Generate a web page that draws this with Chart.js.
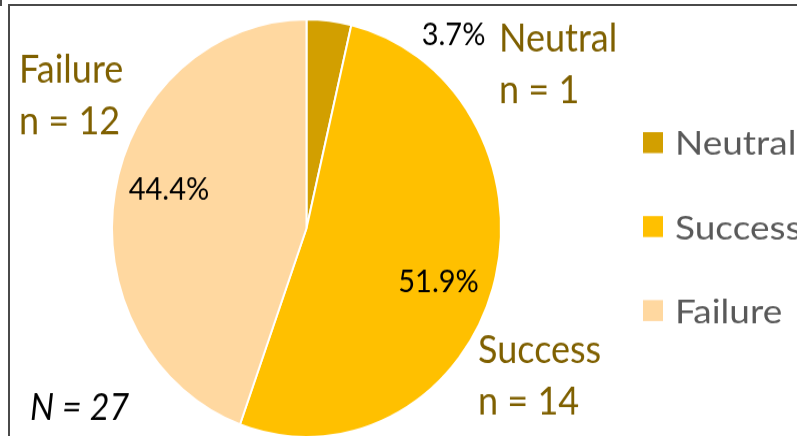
<!DOCTYPE html>
<html>
<head>
<meta charset="utf-8">
<script src="https://cdn.jsdelivr.net/npm/chart.js@4"></script>
<style>
  html, body { margin: 0; padding: 0; background: #fff; overflow: hidden; }
  body { width: 797px; height: 436px; position: relative; }
  #frame {
    position: absolute; left: 8px; top: 4px; width: 820px; height: 460px;
    border-top: 2px solid #4a4a4a; border-left: 2px solid #4a4a4a;
  }
  #tick { position: absolute; left: 0; top: 0; width: 2px; height: 6px; background: #4a4a4a; }
  /* the whole drawing is a little taller than wide */
  #pie {
    position: absolute; left: 0; top: 0;
    transform: scaleY(1.074); transform-origin: 0 0;
  }
</style>
</head>
<body>
<div id="tick"></div>
<div id="frame"></div>
<canvas id="pie" width="797" height="425"></canvas>
<script>
'use strict';

// DATA
let categories = ['Neutral', 'Success', 'Failure'];
let counts = [1, 14, 12];
let sliceColors = ['#D29F00', '#FFC000', '#FFD8A0'];

// label placement, in units of the pie radius from its centre
let pctSpots = [[0.756, -0.877], [0.679, 0.305], [-0.707, -0.135]];
let nameSpots = [[0.990, -0.844], [0.882, 0.645], [-1.478, -0.695]];

const LABEL_FONT = 'Lato, "Open Sans", sans-serif';

// HELPERS
function totalCount() {
  let sum = 0;
  for (let i = 0; i < counts.length; i++) {
    sum += counts[i];
  }
  return sum;
}

// draws percentages, category names, N and the legend
const pieLabels = {
  id: 'pieLabels',
  afterDraw(chart) {
    const ctx = chart.ctx;
    const arcs = chart.getDatasetMeta(0).data;
    const total = totalCount();
    ctx.save();
    ctx.textBaseline = 'alphabetic';

    for (let i = 0; i < arcs.length; i++) {
      const arc = arcs[i];
      const r = arc.outerRadius;

      // percentage
      ctx.font = '29px ' + LABEL_FONT;
      ctx.fillStyle = '#000';
      ctx.textAlign = 'center';
      let pct = (counts[i] / total * 100).toFixed(1) + '%';
      ctx.fillText(pct, arc.x + pctSpots[i][0] * r, arc.y + pctSpots[i][1] * r);

      // category name with n
      ctx.font = '36px ' + LABEL_FONT;
      ctx.fillStyle = '#7F6000';
      ctx.textAlign = 'left';
      let lx = arc.x + nameSpots[i][0] * r;
      let ly = arc.y + nameSpots[i][1] * r;
      ctx.fillText(categories[i], lx, ly);
      ctx.fillText('n = ' + counts[i], lx, ly + 48);
    }

    // N = 27
    ctx.font = 'italic 34px ' + LABEL_FONT;
    ctx.fillStyle = '#000';
    ctx.textAlign = 'left';
    ctx.fillText('N = ' + total, 30, 391);

    // legend, text a bit flatter than the labels
    ctx.font = '37px ' + LABEL_FONT;
    for (let i = 0; i < categories.length; i++) {
      let top = 123 + i * 78.2;
      ctx.fillStyle = sliceColors[i];
      ctx.fillRect(643, top, 20, 19.5);
      ctx.save();
      ctx.translate(675, top + 21.4);
      ctx.scale(1, 0.85);
      ctx.fillStyle = '#595959';
      ctx.fillText(categories[i], 0, 0);
      ctx.restore();
    }
    ctx.restore();
  }
};

// CHART
const ctx = document.getElementById('pie').getContext('2d');
const pieChart = new Chart(ctx, {
  type: 'pie',
  data: {
    labels: categories,
    datasets: [{
      data: counts,
      backgroundColor: sliceColors,
      borderColor: '#fff',
      borderWidth: 2,
      radius: 194.5
    }]
  },
  options: {
    responsive: false,
    animation: false,
    layout: {
      padding: { left: 0, right: 184, top: 0, bottom: 0 }
    },
    plugins: {
      legend: { display: false },
      tooltip: { enabled: false }
    }
  },
  plugins: [pieLabels]
});
</script>
</body>
</html>
